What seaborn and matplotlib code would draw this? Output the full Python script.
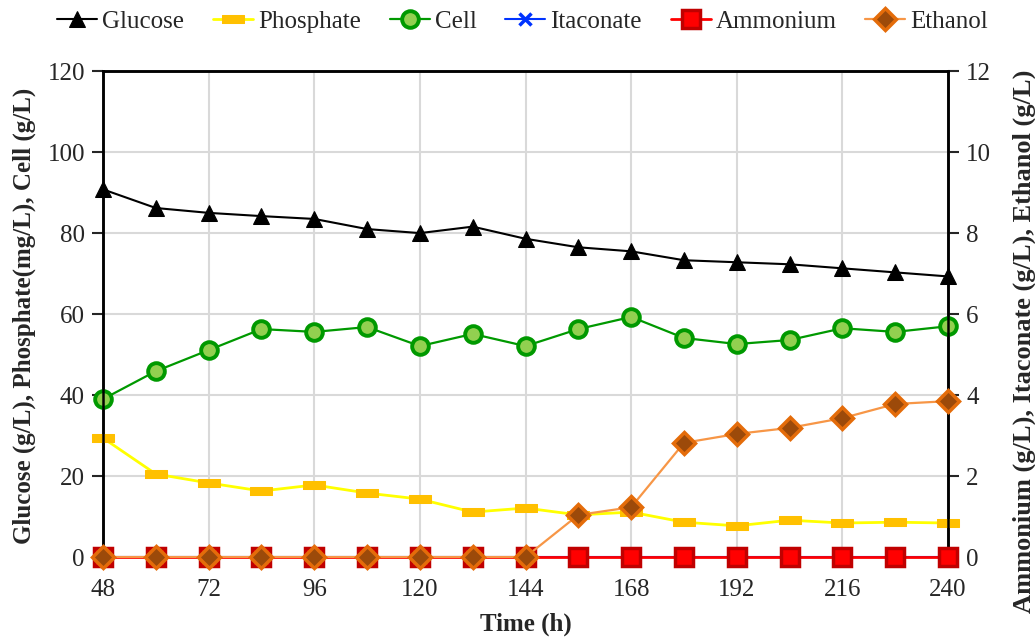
import matplotlib
matplotlib.use("Agg")
import matplotlib.pyplot as plt
import seaborn as sns
import numpy as np
import pandas as pd

# Sampling times (h)
time_h = [48, 60, 72, 84, 96, 108, 120, 132, 144, 156, 168, 180, 192, 204, 216, 228, 240]

# Left axis series
glucose = [90.8, 86.2, 85.0, 84.2, 83.5, 81.0, 80.0, 81.6, 78.6, 76.5, 75.5, 73.3, 72.8, 72.3, 71.3, 70.3, 69.3]
phosphate = [29.4, 20.5, 18.3, 16.3, 17.8, 15.8, 14.3, 11.1, 12.1, 10.4, 11.1, 8.6, 7.7, 9.1, 8.4, 8.6, 8.4]
cell = [39.0, 45.9, 51.1, 56.3, 55.6, 56.8, 52.1, 55.1, 52.1, 56.3, 59.3, 54.1, 52.6, 53.6, 56.5, 55.6, 57.0]

# Right axis series
itaconate = [0.0] * 17
ammonium = [0.0] * 17
ethanol = [0, 0, 0, 0, 0, 0, 0, 0, 0, 1.04, 1.23, 2.82, 3.04, 3.19, 3.43, 3.78, 3.85]

x_ticks = [48, 72, 96, 120, 144, 168, 192, 216, 240]
left_ticks = [0, 20, 40, 60, 80, 100, 120]
right_ticks = [0, 2, 4, 6, 8, 10, 12]

sns.set_style("white")
plt.rcParams["font.family"] = ["Liberation Serif", "DejaVu Serif"]

fig = plt.figure(figsize=(10.35, 6.41), dpi=100)
ax = fig.add_axes([0.0995, 0.131, 0.8165, 0.758])
ax2 = ax.twinx()

# horizontal bar marker for phosphate
bar_marker = [(-1, -0.32), (1, -0.32), (1, 0.32), (-1, 0.32), (-1, -0.32)]

df = pd.DataFrame({"t": time_h, "Glucose": glucose, "Phosphate": phosphate, "Cell": cell,
                   "Itaconate": itaconate, "Ammonium": ammonium, "Ethanol": ethanol})

sns.lineplot(data=df, x="t", y="Glucose", ax=ax, color="black", lw=1.5, marker="^",
             markersize=12, markerfacecolor="black", markeredgecolor="black",
             label="Glucose", clip_on=False, zorder=5)
sns.lineplot(data=df, x="t", y="Phosphate", ax=ax, color="#FFFF00", lw=2, marker=bar_marker,
             markersize=16, markerfacecolor="#FFC000", markeredgecolor="#FFC000",
             label="Phosphate", clip_on=False, zorder=4)
sns.lineplot(data=df, x="t", y="Cell", ax=ax, color="#009900", lw=1.6, marker="o",
             markersize=12, markerfacecolor="#92D050", markeredgecolor="#009900",
             markeredgewidth=2.8, label="Cell", clip_on=False, zorder=5)

sns.lineplot(data=df, x="t", y="Itaconate", ax=ax2, color="#0033FF", lw=1.5, marker="x",
             markersize=9, markeredgewidth=2.5, markeredgecolor="#0033FF",
             label="Itaconate", clip_on=False, zorder=2)
sns.lineplot(data=df, x="t", y="Ammonium", ax=ax2, color="#FF0000", lw=2, marker="s",
             markersize=13, markerfacecolor="#FF0000", markeredgecolor="#C00000",
             markeredgewidth=2.5, label="Ammonium", clip_on=False, zorder=3)
sns.lineplot(data=df, x="t", y="Ethanol", ax=ax2, color="#F79646", lw=1.6, marker="D",
             markersize=11, markerfacecolor="#9C4A0A", markeredgecolor="#E46C0A",
             markeredgewidth=2.5, label="Ethanol", clip_on=False, zorder=4)

ax.set_xlim(48, 240)
ax.set_ylim(0, 120)
ax2.set_ylim(0, 12)
ax.set_xticks(x_ticks)
ax.set_yticks(left_ticks)
ax2.set_yticks(right_ticks)

ax.grid(True, color="#D9D9D9", lw=1.5)
ax.set_axisbelow(True)
ax2.grid(False)

for a in (ax, ax2):
    for s in ("left", "right", "top"):
        a.spines[s].set_color("black")
        a.spines[s].set_linewidth(1.8)
    a.spines["bottom"].set_visible(False)

ax.tick_params(axis="y", direction="out", length=8, width=1.5, labelsize=18, pad=5, left=True)
ax2.tick_params(axis="y", direction="out", length=8, width=1.5, labelsize=18, pad=5, right=True)
ax.tick_params(axis="x", length=0, labelsize=18, pad=16)

ax.set_xlabel("Time (h)", fontsize=18, fontweight="bold", labelpad=8)
ax.set_ylabel("Glucose (g/L), Phosphate(mg/L), Cell (g/L)", fontsize=18, fontweight="bold")
ax.yaxis.set_label_coords(-0.079, 0.497)
ax2.set_ylabel("Ammonium (g/L), Itaconate (g/L), Ethanol (g/L)", fontsize=19, fontweight="bold",
               rotation=90)
ax2.yaxis.set_label_coords(1.076, 0.444)

h1, l1 = ax.get_legend_handles_labels()
h2, l2 = ax2.get_legend_handles_labels()
if ax.get_legend():
    ax.get_legend().remove()
if ax2.get_legend():
    ax2.get_legend().remove()
fig.legend(h1 + h2, l1 + l2, loc="center", bbox_to_anchor=(0.505, 0.966), ncol=6,
           frameon=False, fontsize=18, handlelength=1.6, handletextpad=0.2, columnspacing=1.15,
           borderaxespad=0)

fig.savefig("out.png", dpi=100)
